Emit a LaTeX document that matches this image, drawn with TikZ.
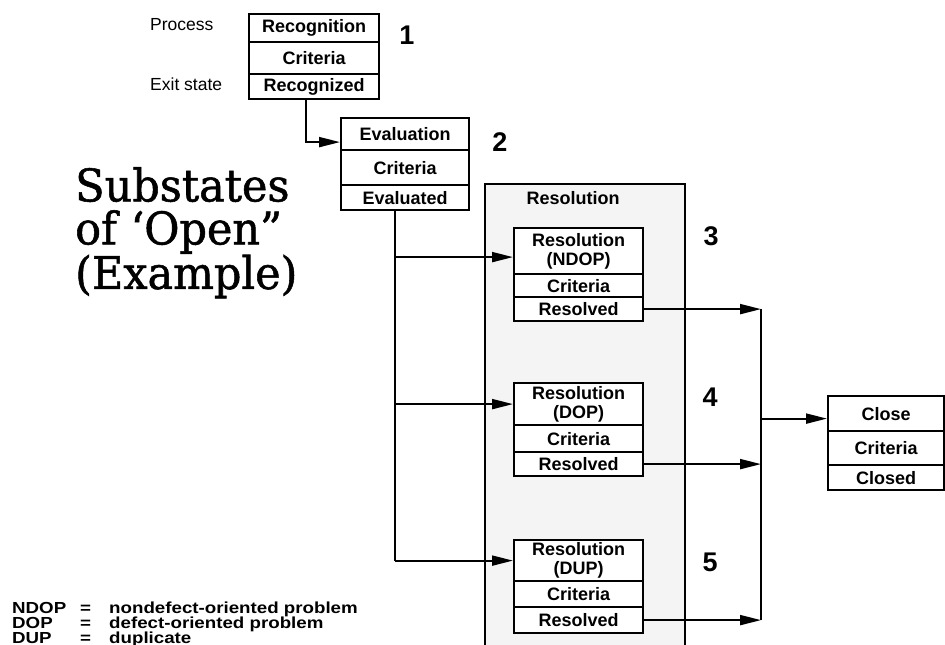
\documentclass[tikz,border=0pt]{standalone}
\usepackage{fontspec}
\setmainfont{Liberation Sans}
\newfontfamily\titlefont[FakeStretch=0.955,FakeBold=1.2]{DejaVu Serif}
\newfontfamily\legfont[FakeStretch=1.17]{Liberation Sans}
\usetikzlibrary{arrows.meta}
\definecolor{resfill}{HTML}{F4F4F4}
\begin{document}
\begin{tikzpicture}[x=1pt,y=-1pt,
  cell/.style={draw, line width=2.2pt, fill=white, inner sep=0pt, anchor=north west,
    font=\fontsize{18}{19}\selectfont\bfseries, align=center},
  conn/.style={line width=2pt},
  arr/.style={conn, -{Triangle[length=21pt,width=10pt]}},
  num/.style={font=\fontsize{27}{30}\selectfont\bfseries},
  side/.style={font=\fontsize{17.5}{20}\selectfont, anchor=west, inner sep=0pt},
  leg/.style={font=\fontsize{16}{16}\legfont\bfseries, anchor=base west, inner sep=0pt},
  ttl/.style={font=\fontsize{45}{43}\titlefont, anchor=north west, inner sep=0pt, align=left}]
\useasboundingbox (0,0) rectangle (945,645);

% container
\node[draw, line width=2pt, fill=resfill, anchor=north west, inner sep=0pt,
      minimum width=200pt, minimum height=480pt] (res) at (484,183) {};
\node[font=\fontsize{18}{20}\selectfont\bfseries] (reslbl) at (573,198) {Resolution};

% box 1
\node[cell, minimum width=130pt, minimum height=28pt] (r1a) at (248,13) {Recognition};
\node[cell, minimum width=130pt, minimum height=32pt] (r1b) at (248,41) {Criteria};
\node[cell, minimum width=130pt, minimum height=25pt] (r1c) at (248,73) {Recognized};
% box 2
\node[cell, minimum width=128pt, minimum height=32pt] (r2a) at (340,117) {Evaluation};
\node[cell, minimum width=128pt, minimum height=35pt] (r2b) at (340,149) {Criteria};
\node[cell, minimum width=128pt, minimum height=25pt] (r2c) at (340,184) {Evaluated};
% box 3
\node[cell, minimum width=129pt, minimum height=46pt] (r3a) at (513,227) {Resolution\\(NDOP)};
\node[cell, minimum width=129pt, minimum height=23pt] (r3b) at (513,273) {Criteria};
\node[cell, minimum width=129pt, minimum height=24pt] (r3c) at (513,296) {Resolved};
% box 4
\node[cell, minimum width=129pt, minimum height=42pt] (r4a) at (513,382) {Resolution\\(DOP)};
\node[cell, minimum width=129pt, minimum height=27pt] (r4b) at (513,424) {Criteria};
\node[cell, minimum width=129pt, minimum height=24pt] (r4c) at (513,451) {Resolved};
% box 5
\node[cell, minimum width=129pt, minimum height=41pt] (r5a) at (513,539) {Resolution\\(DUP)};
\node[cell, minimum width=129pt, minimum height=26pt] (r5b) at (513,580) {Criteria};
\node[cell, minimum width=129pt, minimum height=26pt] (r5c) at (513,606) {Resolved};
% close
\node[cell, minimum width=116pt, minimum height=35pt] (c1) at (827,395) {Close};
\node[cell, minimum width=116pt, minimum height=34pt] (c2) at (827,430) {Criteria};
\node[cell, minimum width=116pt, minimum height=25pt] (c3) at (827,464) {Closed};

% numbers
\node[num] (n1) at (407,35) {1};
\node[num] (n2) at (500,142) {2};
\node[num] (n3) at (711,236) {3};
\node[num] (n4) at (710,397) {4};
\node[num] (n5) at (710,562) {5};

% side labels
\node[side] (lp) at (150,25) {Process};
\node[side] (le) at (150,84) {Exit state};

% title
\node[ttl] (title) at (75,167) {Substates\\of ‘Open”\\(Example)};

% legend
\node[leg] (l1a) at (12,613) {NDOP};
\node[leg] (l1b) at (80,613) {=};
\node[leg] (l1c) at (109,613) {nondefect-oriented problem};
\node[leg] (l2a) at (12,628) {DOP};
\node[leg] (l2b) at (80,628) {=};
\node[leg] (l2c) at (109,628) {defect-oriented problem};
\node[leg] (l3a) at (12,643) {DUP};
\node[leg] (l3b) at (80,643) {=};
\node[leg] (l3c) at (109,643) {duplicate};

% connectors
\draw[arr] ([xshift=-8pt]r1c.south) |- ([yshift=-8pt]r2a.west);
\coordinate (bus) at ([xshift=-10pt]r2c.south);
\draw[conn] (bus) -- (bus |- r5a.west);
\draw[arr] (bus |- r3a.west) ++(0,6) -- ([yshift=-6pt]r3a.west);
\draw[arr] (bus |- r4a.west) -- (r4a.west);
\draw[arr] (bus |- r5a.west) -- (r5a.west);

\coordinate (rbus) at (761,300);
\draw[arr] (r3c.east) -- (r3c.east -| rbus);
\draw[arr] (r4c.east) -- (r4c.east -| rbus);
\draw[arr] (r5c.east) -- (r5c.east -| rbus);
\draw[conn] (r3c.east -| rbus) -- (r5c.east -| rbus);
\draw[arr] ([yshift=-5pt]c1.west -| rbus) -- ([yshift=-5pt]c1.west);
\end{tikzpicture}
\end{document}
